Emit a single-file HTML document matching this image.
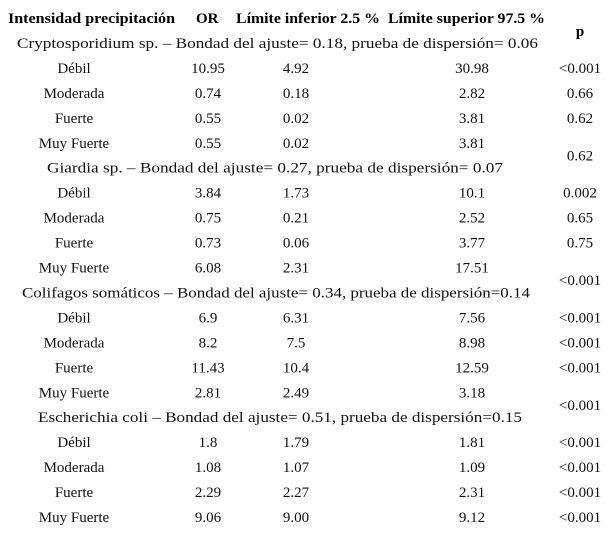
<!DOCTYPE html>
<html><head><meta charset="utf-8"><style>
html,body{margin:0;padding:0;background:#fff;width:613px;height:533px;overflow:hidden}
svg{display:block}
.h{font-family:"Liberation Serif",serif;font-weight:bold;font-size:15px;fill:#000}
.t{font-family:"Liberation Serif","DejaVu Serif",serif;font-size:15px;fill:#111}
</style></head><body>
<svg id="tbl" width="613" height="533" xmlns="http://www.w3.org/2000/svg">
<text class="h" x="8" y="23" textLength="167" lengthAdjust="spacingAndGlyphs">Intensidad precipitación</text>
<text class="h" x="196" y="23">OR</text>
<text class="h" x="236" y="23" textLength="144" lengthAdjust="spacingAndGlyphs">Límite inferior 2.5 %</text>
<text class="h" x="388" y="23" textLength="157" lengthAdjust="spacingAndGlyphs">Límite superior 97.5 %</text>
<text class="h" x="580" y="36" text-anchor="middle">p</text>
</svg>
<script>
const groupTitles=["Cryptosporidium sp. – Bondad del ajuste= 0.18, prueba de dispersión= 0.06","Giardia sp. – Bondad del ajuste= 0.27, prueba de dispersión= 0.07","Colifagos somáticos – Bondad del ajuste= 0.34, prueba de dispersión=0.14","Escherichia coli – Bondad del ajuste= 0.51, prueba de dispersión=0.15"];
const categories=["Débil","Moderada","Fuerte","Muy Fuerte"];
const orValues=[["10.95","0.74","0.55","0.55"],["3.84","0.75","0.73","6.08"],["6.9","8.2","11.43","2.81"],["1.8","1.08","2.29","9.06"]];
const lowerValues=[["4.92","0.18","0.02","0.02"],["1.73","0.21","0.06","2.31"],["6.31","7.5","10.4","2.49"],["1.79","1.07","2.27","9.00"]];
const upperValues=[["30.98","2.82","3.81","3.81"],["10.1","2.52","3.77","17.51"],["7.56","8.98","12.59","3.18"],["1.81","1.09","2.31","9.12"]];
const pValues=[["<0.001","0.66","0.62","0.62"],["0.002","0.65","0.75","<0.001"],["<0.001","<0.001","<0.001","<0.001"],["<0.001","<0.001","<0.001","<0.001"]];
const titleX=[[17,521],[47,456],[22,508],[38,484]];
const svg=document.getElementById('tbl');
const NS="http://www.w3.org/2000/svg";
function txt(s,x,y,anchor,name,len){
  const t=document.createElementNS(NS,'text');
  t.setAttribute('class','t');t.setAttribute('x',x);t.setAttribute('y',y);
  if(anchor)t.setAttribute('text-anchor',anchor);
  if(len){t.setAttribute('textLength',len);t.setAttribute('lengthAdjust','spacingAndGlyphs');}
  t.textContent=s;
  
  
  svg.appendChild(t);
}
const rowY=(g,i)=>43+g*124.7+(i+1)*25;
groupTitles.forEach((title,g)=>{
  txt(title,titleX[g][0],43+g*124.7+5,null,'group-title',titleX[g][1]);
  categories.forEach((c,i)=>{
    const y=rowY(g,i)+5;
    txt(c,74,y,'middle','category-label');
    txt(orValues[g][i],208,y,'middle','or-value');
    txt(lowerValues[g][i],296,y,'middle','lower-limit-value');
    txt(upperValues[g][i],472,y,'middle','upper-limit-value');
    if(i<3) txt(pValues[g][i],580,y,'middle','p-value');
    else if(g<3) txt(pValues[g][i],580,y+12.5,'middle','p-value');
    else txt(pValues[g][i],580,y,'middle','p-value');
  });
});
</script>
</body></html>
